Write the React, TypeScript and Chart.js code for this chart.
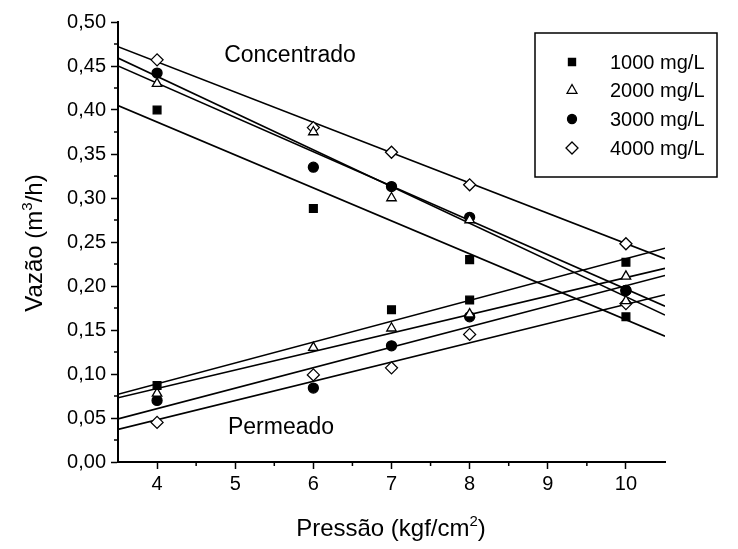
import React, { useEffect, useRef } from 'react';
import { Chart, registerables } from 'chart.js';

Chart.register(...registerables);

// ---- data ----
const pressures = [4, 6, 7, 8, 10];

const conc1000 = [0.4, 0.288, null, 0.23, 0.165];
const conc2000 = [0.43, 0.375, 0.3, 0.275, 0.183];
const conc3000 = [0.442, 0.335, 0.313, 0.278, 0.195];
const conc4000 = [0.457, 0.38, 0.352, 0.315, 0.248];

const perm1000 = [0.087, null, 0.173, 0.184, 0.227];
const perm2000 = [0.078, 0.13, 0.152, 0.168, 0.211];
const perm3000 = [0.07, 0.084, 0.132, 0.165, 0.195];
const perm4000 = [0.045, 0.099, 0.107, 0.145, 0.18];

// fitted straight lines, value at each end of the x axis
const fitX = [3.5, 10.5];
const fitConc1000 = [0.405, 0.143];
const fitConc2000 = [0.459, 0.167];
const fitConc3000 = [0.45, 0.177];
const fitConc4000 = [0.472, 0.231];
const fitPerm1000 = [0.077, 0.243];
const fitPerm2000 = [0.073, 0.22];
const fitPerm3000 = [0.049, 0.212];
const fitPerm4000 = [0.037, 0.19];

const seriesLabels = ['1000 mg/L', '2000 mg/L', '3000 mg/L', '4000 mg/L'];

const xTicks = [4, 5, 6, 7, 8, 9, 10];
const xMinorTicks = [4.5, 5.5, 6.5, 7.5, 8.5, 9.5];
const yTicks = [0, 0.05, 0.1, 0.15, 0.2, 0.25, 0.3, 0.35, 0.4, 0.45, 0.5];
const yMinorTicks = [0.025, 0.075, 0.125, 0.175, 0.225, 0.275, 0.325, 0.375, 0.425, 0.475];

const xTitle = 'Pressão (kgf/cm';
const xTitleSup = '2';
const yTitle = 'Vazão (m';
const yTitleSup = '3';
const yTitleEnd = '/h)';
const concLabel = 'Concentrado';
const permLabel = 'Permeado';

const FONT = '"Liberation Sans", Arial, sans-serif';

type Sty = { pointStyle: string; filled: boolean; radius: number };
const styles: Sty[] = [
  { pointStyle: 'rect', filled: true, radius: 5.5 },
  { pointStyle: 'triangle', filled: false, radius: 5.5 },
  { pointStyle: 'circle', filled: true, radius: 5 },
  { pointStyle: 'rectRot', filled: false, radius: 6 },
];

const toPoints = (ys: (number | null)[]) =>
  pressures.map((x, i) => ({ x, y: ys[i] })).filter((p) => p.y !== null);
const toLine = (ys: number[]) => fitX.map((x, i) => ({ x, y: ys[i] }));

function drawSymbol(ctx: CanvasRenderingContext2D, kind: string, filled: boolean, x: number, y: number, r: number) {
  ctx.save();
  ctx.beginPath();
  if (kind === 'rect') {
    const s = r * Math.SQRT1_2;
    ctx.rect(x - s, y - s, 2 * s, 2 * s);
  } else if (kind === 'triangle') {
    ctx.moveTo(x, y - r);
    ctx.lineTo(x + r * 0.9, y + r * 0.6);
    ctx.lineTo(x - r * 0.9, y + r * 0.6);
    ctx.closePath();
  } else if (kind === 'circle') {
    ctx.arc(x, y, r, 0, Math.PI * 2);
  } else {
    ctx.moveTo(x, y - r);
    ctx.lineTo(x + r, y);
    ctx.lineTo(x, y + r);
    ctx.lineTo(x - r, y);
    ctx.closePath();
  }
  ctx.lineWidth = 1.3;
  ctx.strokeStyle = '#000';
  ctx.fillStyle = filled ? '#000' : '#fff';
  ctx.fill();
  ctx.stroke();
  ctx.restore();
}

function drawWithSup(ctx: CanvasRenderingContext2D, a: string, sup: string, b: string, cx: number, cy: number, size: number) {
  ctx.font = `${size}px ${FONT}`;
  const wa = ctx.measureText(a).width;
  const wb = ctx.measureText(b).width;
  ctx.font = `${Math.round(size * 0.62)}px ${FONT}`;
  const ws = ctx.measureText(sup).width;
  const total = wa + ws + wb;
  let x = cx - total / 2;
  ctx.textAlign = 'left';
  ctx.textBaseline = 'alphabetic';
  ctx.font = `${size}px ${FONT}`;
  ctx.fillText(a, x, cy);
  x += wa;
  ctx.font = `${Math.round(size * 0.62)}px ${FONT}`;
  ctx.fillText(sup, x, cy - size * 0.42);
  x += ws;
  ctx.font = `${size}px ${FONT}`;
  ctx.fillText(b, x, cy);
}

const decorPlugin = {
  id: 'decor',
  afterDraw(chart: any) {
    const ctx: CanvasRenderingContext2D = chart.ctx;
    const xs = chart.scales.x;
    const ys = chart.scales.y;
    const area = chart.chartArea;
    ctx.save();
    ctx.strokeStyle = '#000';
    ctx.lineWidth = 1.5;
    // minor ticks
    xMinorTicks.forEach((v) => {
      const px = xs.getPixelForValue(v);
      ctx.beginPath();
      ctx.moveTo(px, area.bottom);
      ctx.lineTo(px, area.bottom + 4);
      ctx.stroke();
    });
    yMinorTicks.forEach((v) => {
      const py = ys.getPixelForValue(v);
      ctx.beginPath();
      ctx.moveTo(area.left, py);
      ctx.lineTo(area.left - 4, py);
      ctx.stroke();
    });

    ctx.fillStyle = '#000';
    // annotations
    ctx.font = `23px ${FONT}`;
    ctx.textAlign = 'center';
    ctx.textBaseline = 'alphabetic';
    ctx.fillText(concLabel, 290, 62);
    ctx.fillText(permLabel, 281, 434);

    // axis titles
    drawWithSup(ctx, xTitle, xTitleSup, ')', 391, 536, 24);
    ctx.save();
    ctx.translate(42, 243);
    ctx.rotate(-Math.PI / 2);
    drawWithSup(ctx, yTitle, yTitleSup, yTitleEnd, 0, 0, 24);
    ctx.restore();

    // legend
    ctx.lineWidth = 1.5;
    ctx.strokeRect(535, 33, 182, 144);
    const rows = [62, 90, 119, 148];
    ctx.font = `20px ${FONT}`;
    ctx.textAlign = 'left';
    ctx.textBaseline = 'middle';
    seriesLabels.forEach((lab, i) => {
      const st = styles[i];
      const r = i === 0 ? 5 : i === 2 ? 4.5 : i === 1 ? 5.5 : 6;
      drawSymbol(ctx, st.pointStyle, st.filled, 572, rows[i], r);
      ctx.fillStyle = '#000';
      ctx.fillText(lab, 610, rows[i] + 1);
    });
    ctx.restore();
  },
};

export default function App() {
  const ref = useRef<HTMLCanvasElement | null>(null);
  useEffect(() => {
    if (!ref.current) return;
    const concs = [conc1000, conc2000, conc3000, conc4000];
    const perms = [perm1000, perm2000, perm3000, perm4000];
    const fitsC = [fitConc1000, fitConc2000, fitConc3000, fitConc4000];
    const fitsP = [fitPerm1000, fitPerm2000, fitPerm3000, fitPerm4000];
    const datasets: any[] = [];
    for (let i = 0; i < 4; i++) {
      const st = styles[i];
      for (const ys of [concs[i], perms[i]]) {
        datasets.push({
          type: 'scatter',
          label: seriesLabels[i],
          data: toPoints(ys),
          pointStyle: st.pointStyle,
          pointRadius: st.radius,
          pointBorderWidth: 1.3,
          pointBorderColor: '#000',
          pointBackgroundColor: st.filled ? '#000' : '#fff',
          showLine: false,
          order: 0,
        });
      }
      for (const f of [fitsC[i], fitsP[i]]) {
        datasets.push({
          type: 'line',
          label: seriesLabels[i] + ' fit',
          data: toLine(f),
          borderColor: '#000',
          borderWidth: 1.6,
          pointRadius: 0,
          fill: false,
          order: 1,
        });
      }
    }
    const chart = new Chart(ref.current, {
      type: 'scatter',
      data: { datasets },
      options: {
        animation: false,
        responsive: false,
        devicePixelRatio: 1,
        layout: { padding: { top: 22, right: 73, left: 0, bottom: 0 } },
        plugins: { legend: { display: false }, tooltip: { enabled: false } },
        scales: {
          x: {
            type: 'linear',
            min: 3.5,
            max: 10.5,
            afterBuildTicks: (s: any) => {
              s.ticks = xTicks.map((v) => ({ value: v }));
            },
            afterFit: (s: any) => {
              s.height = 87;
            },
            ticks: {
              color: '#000',
              font: { family: FONT, size: 20 },
              padding: 3,
              callback: (v: any) => String(v),
            },
            grid: { drawOnChartArea: false, tickLength: 7, tickColor: '#000', tickWidth: 1.5 },
            border: { display: true, color: '#000', width: 2 },
          },
          y: {
            type: 'linear',
            min: 0,
            max: 0.5,
            afterBuildTicks: (s: any) => {
              s.ticks = yTicks.map((v) => ({ value: v }));
            },
            afterFit: (s: any) => {
              s.width = 118;
            },
            ticks: {
              color: '#000',
              font: { family: FONT, size: 20 },
              padding: 5,
              callback: (v: any) => Number(v).toFixed(2).replace('.', ','),
            },
            grid: { drawOnChartArea: false, tickLength: 7, tickColor: '#000', tickWidth: 1.5 },
            border: { display: true, color: '#000', width: 2 },
          },
        },
      },
      plugins: [decorPlugin],
    } as any);
    return () => chart.destroy();
  }, []);
  return (
    <canvas
      ref={ref}
      width={738}
      height={549}
      style={{ position: 'absolute', left: 0, top: 0, width: 738, height: 549, background: '#fff' }}
    />
  );
}
